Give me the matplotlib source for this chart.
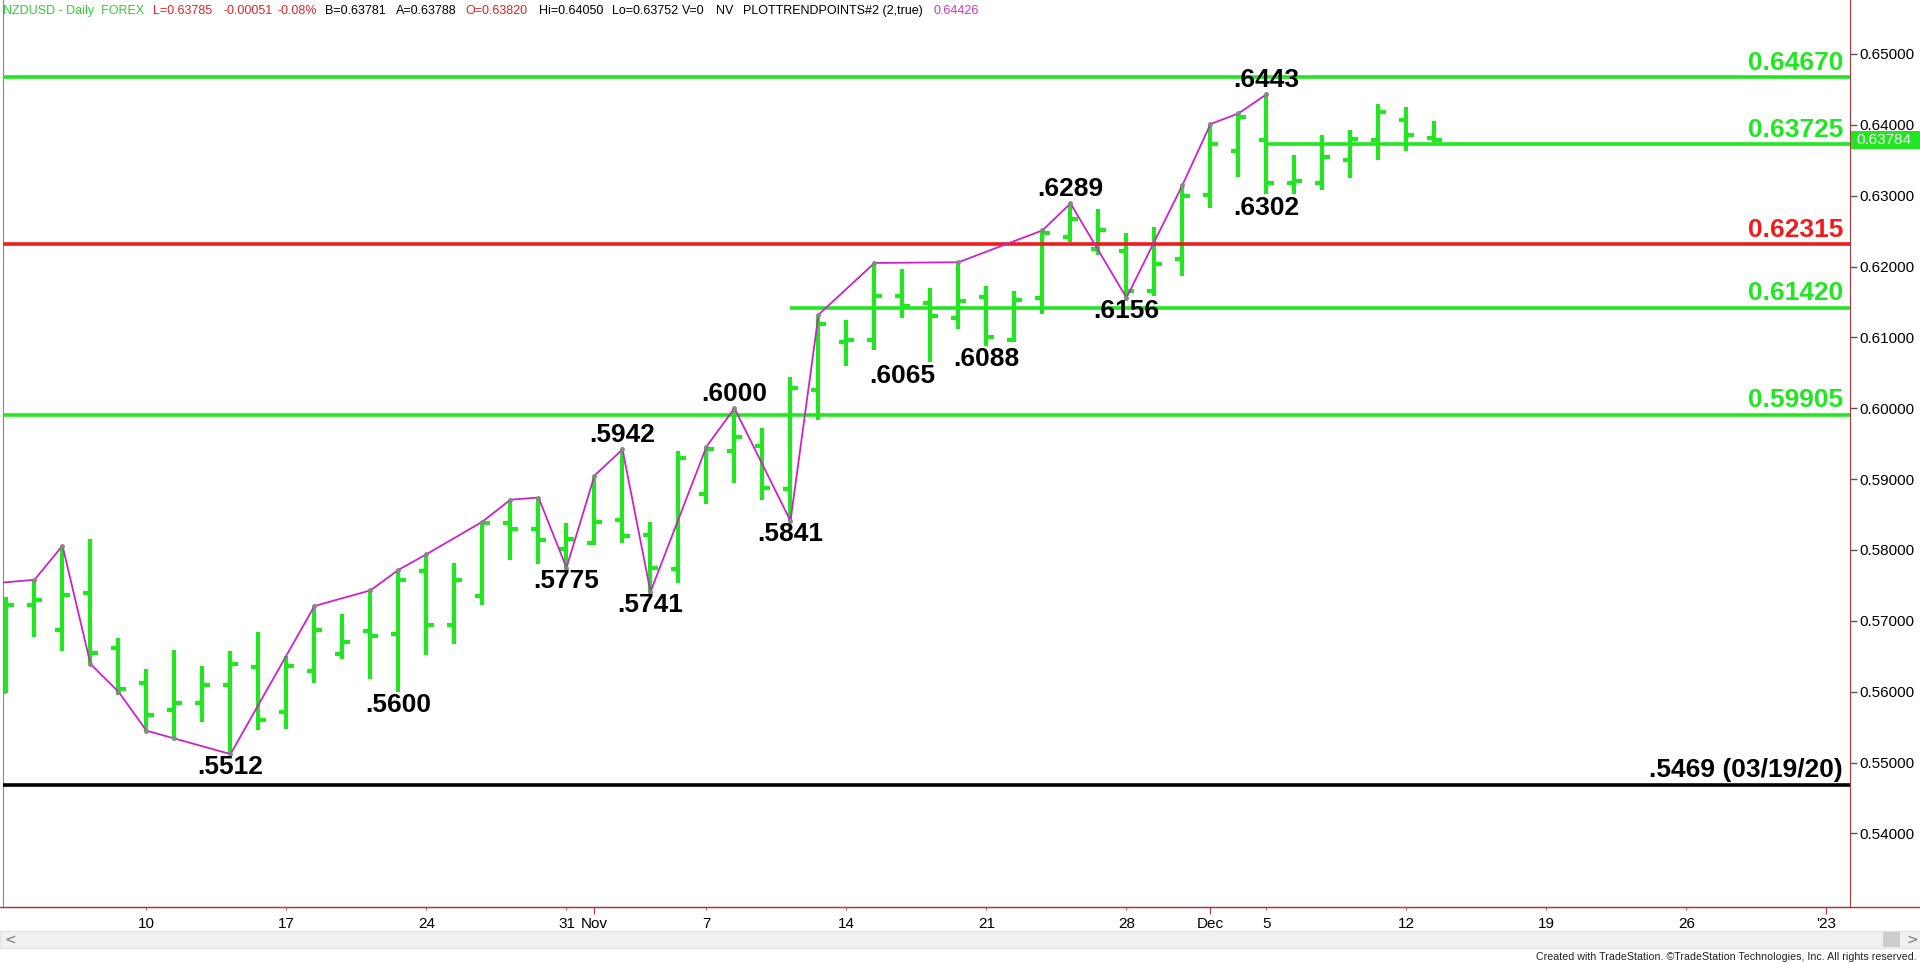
import numpy as np
import pandas as pd
import matplotlib
matplotlib.use("Agg")
import matplotlib.pyplot as plt
import matplotlib.transforms as mtransforms
from matplotlib.patches import Rectangle
from matplotlib.lines import Line2D

# NZD/USD daily bars, Oct 3 - Dec 13 2022
dates = pd.bdate_range("2022-10-03", "2022-12-13")
opens = [0.5600, 0.5723, 0.5687, 0.5740, 0.5662, 0.5613, 0.5574, 0.5584, 0.5609, 0.5635,
         0.5571, 0.5629, 0.5653, 0.5686, 0.5681, 0.5770, 0.5694, 0.5735, 0.5838, 0.5829,
         0.5801, 0.5810, 0.5843, 0.5821, 0.5773, 0.5879, 0.5940, 0.5947, 0.5886, 0.6026,
         0.6094, 0.6096, 0.6158, 0.6149, 0.6128, 0.6157, 0.6097, 0.6155, 0.6241, 0.6224,
         0.6222, 0.6165, 0.6210, 0.6301, 0.6363, 0.6379, 0.6318, 0.6318, 0.6350, 0.6379,
         0.6407, 0.6382]
highs = [0.5733, 0.5758, 0.5806, 0.5816, 0.5676, 0.5632, 0.5659, 0.5636, 0.5658, 0.5684,
         0.5650, 0.5721, 0.5710, 0.5743, 0.5772, 0.5794, 0.5782, 0.5840, 0.5871, 0.5874,
         0.5838, 0.5905, 0.5942, 0.5840, 0.5940, 0.5946, 0.6000, 0.5972, 0.6044, 0.6132,
         0.6124, 0.6205, 0.6196, 0.6170, 0.6206, 0.6172, 0.6165, 0.6251, 0.6289, 0.6281,
         0.6247, 0.6256, 0.6315, 0.6401, 0.6416, 0.6443, 0.6357, 0.6386, 0.6392, 0.6430,
         0.6425, 0.6405]
lows = [0.5598, 0.5677, 0.5657, 0.5639, 0.5596, 0.5545, 0.5534, 0.5557, 0.5512, 0.5546,
        0.5548, 0.5613, 0.5646, 0.5618, 0.5600, 0.5652, 0.5668, 0.5723, 0.5786, 0.5780,
        0.5775, 0.5807, 0.5810, 0.5741, 0.5753, 0.5865, 0.5895, 0.5871, 0.5841, 0.5983,
        0.6060, 0.6082, 0.6127, 0.6065, 0.6112, 0.6088, 0.6093, 0.6133, 0.6235, 0.6216,
        0.6156, 0.6158, 0.6187, 0.6282, 0.6326, 0.6302, 0.6303, 0.6308, 0.6325, 0.6350,
        0.6363, 0.6375]
closes = [0.5723, 0.5730, 0.5737, 0.5655, 0.5604, 0.5567, 0.5584, 0.5609, 0.5639, 0.5560,
          0.5636, 0.5687, 0.5670, 0.5679, 0.5758, 0.5694, 0.5757, 0.5838, 0.5829, 0.5814,
          0.5815, 0.5840, 0.5820, 0.5775, 0.5930, 0.5942, 0.5959, 0.5887, 0.6029, 0.6119,
          0.6097, 0.6159, 0.6144, 0.6130, 0.6151, 0.6100, 0.6153, 0.6247, 0.6267, 0.6252,
          0.6166, 0.6204, 0.6300, 0.6373, 0.6411, 0.6318, 0.6320, 0.6354, 0.6380, 0.6418,
          0.6385, 0.6378]

# trend points (bar number, price)
pivot_bars = [-1, 1, 2, 3, 4, 5, 6, 8, 11, 13, 14, 15, 17, 18, 19, 20, 21, 22, 23, 25,
              26, 28, 29, 31, 34, 37, 38, 40, 42, 43, 44, 45]
pivot_vals = [0.5751, 0.5758, 0.5806, 0.5639, 0.5600, 0.5545, 0.5534, 0.5512, 0.5721, 0.5743,
              0.5772, 0.5794, 0.5840, 0.5871, 0.5874, 0.5775, 0.5905, 0.5942, 0.5741, 0.5946,
              0.6000, 0.5841, 0.6132, 0.6205, 0.6206, 0.6251, 0.6289, 0.6156, 0.6315, 0.6401,
              0.6416, 0.6443]

# swing labels
high_label_bars = [22, 26, 38, 45]
low_label_bars = [8, 14, 20, 23, 28, 33, 35, 40, 45]

# horizontal levels
levels = [0.64670, 0.63725, 0.62315, 0.61420, 0.59905]
level_text = ["0.64670", "0.63725", "0.62315", "0.61420", "0.59905"]
level_colors = ["#22e622", "#22e622", "#ee1c1c", "#22e622", "#22e622"]
level_from = [None, 45, None, 28, None]
low_2020 = 0.5469
low_2020_text = ".5469 (03/19/20)"
last_price = 0.63784

GREEN = "#22e622"
AXRED = "#a83838"

W, H = 1920, 963
fig = plt.figure(figsize=(W / 100, H / 100), dpi=100)
fig.patch.set_facecolor("white")

ax = fig.add_axes([3 / W, 56 / H, 1847 / W, 907 / H])
ax.set_xlim(-0.125, 65.84)
ax.set_ylim(0.529624, 0.657605)

x = np.arange(len(dates))
tw = 0.27
ax.vlines(x, lows, highs, color=GREEN, lw=3, capstyle="butt", zorder=2)
ax.hlines(opens, x - tw, x, color=GREEN, lw=3, zorder=2)
ax.hlines(closes, x, x + tw, color=GREEN, lw=3, zorder=2)

xmin, xmax = ax.get_xlim()
for lv, txt, col, start in zip(levels, level_text, level_colors, level_from):
    x0 = xmin if start is None else start
    ax.hlines(lv, x0, xmax, color=col, lw=2.6, zorder=3)
    ax.annotate(txt, xy=(0.9962, lv), xycoords=("axes fraction", "data"),
                xytext=(0, 5.5), textcoords="offset points", ha="right", va="baseline",
                fontsize=19, fontweight="bold", color=col, family="Liberation Sans", zorder=5)
ax.hlines(low_2020, xmin, xmax, color="black", lw=2.6, zorder=3)
ax.annotate(low_2020_text, xy=(0.9962, low_2020), xycoords=("axes fraction", "data"),
            xytext=(0, 5.5), textcoords="offset points", ha="right", va="baseline",
            fontsize=19, fontweight="bold", color="black", family="Liberation Sans", zorder=5)

ax.plot(pivot_bars, pivot_vals, color="#cc22cc", lw=1.3, zorder=4,
        marker="o", markersize=2.5, markerfacecolor="#888888", markeredgecolor="#888888")

nudge = {33: -20}
for b in high_label_bars:
    ax.annotate("." + f"{highs[b]:.4f}"[2:], xy=(b, highs[b]), xytext=(nudge.get(b, 0), 5),
                textcoords="offset points", ha="center", va="baseline", fontsize=19,
                fontweight="bold", color="black", family="Liberation Sans", zorder=5)
for b in low_label_bars:
    ax.annotate("." + f"{lows[b]:.4f}"[2:], xy=(b, lows[b]), xytext=(nudge.get(b, 0), -1),
                textcoords="offset points", ha="center", va="top", fontsize=19,
                fontweight="bold", color="black", family="Liberation Sans", zorder=5)

# price axis
ax.yaxis.tick_right()
ax.set_yticks(np.arange(0.54, 0.6501, 0.01))
ax.yaxis.set_major_formatter(matplotlib.ticker.FormatStrFormatter("%.5f"))
ax.tick_params(axis="y", direction="out", length=5, width=1, color="#555555", pad=2,
               labelsize=11, labelcolor="black")
for t in ax.get_yticklabels():
    t.set_family("Liberation Sans")

# date axis
all_days = pd.bdate_range("2022-10-03", "2023-01-02")
maj_pos, maj_lab, min_pos, min_lab = [], [], [], []
for i, d in enumerate(all_days):
    first = i > 0 and all_days[i - 1].month != d.month
    if first:
        maj_pos.append(i)
        maj_lab.append("'" + d.strftime("%y") if d.month == 1 else d.strftime("%b"))
    elif d.weekday() == 0 and i > 0:
        min_pos.append(i)
        min_lab.append(str(d.day))
ax.set_xticks(maj_pos, maj_lab)
ax.set_xticks(min_pos, min_lab, minor=True)
ax.tick_params(axis="x", which="major", direction="out", length=5, color=AXRED, pad=2.5,
               labelsize=11)
ax.tick_params(axis="x", which="minor", direction="out", length=2, color=AXRED, pad=5.5,
               labelsize=11)
for t in ax.get_xticklabels(which="both"):
    t.set_family("Liberation Sans")

ax.spines["top"].set_visible(False)
ax.spines["left"].set_color("#888888")
ax.spines["right"].set_color(AXRED)
ax.spines["bottom"].set_color(AXRED)

# bottom line runs under price axis too
fig.add_artist(Line2D([0, 1], [56 / H, 56 / H], color=AXRED, lw=1, transform=fig.transFigure))

# last price box
bt = mtransforms.blended_transform_factory(fig.transFigure, ax.transData)
fig.add_artist(Rectangle((1851 / W, last_price - 0.00128), 69 / W, 0.00256, transform=bt,
                         facecolor="#22e622", edgecolor="none", clip_on=False))
fig.text(1856 / W, last_price, f"{last_price:.5f}", transform=bt, color="white", fontsize=11,
         va="center", ha="left", family="Liberation Sans")

# scroll bar
fig.add_artist(Rectangle((0, 15 / H), 1, 17 / H, transform=fig.transFigure,
                         facecolor="#f0f0f0", edgecolor="#dddddd", lw=0.6))
fig.add_artist(Rectangle((1883 / W, 16 / H), 17 / W, 15 / H, transform=fig.transFigure,
                         facecolor="#cdcdcd", edgecolor="none"))
fig.text(4 / W, 23.5 / H, "<", fontsize=10, color="#777777", va="center", ha="left")
fig.text(1907 / W, 23.5 / H, ">", fontsize=10, color="#777777", va="center", ha="left")
fig.text(1917 / W, 6 / H, "Created with TradeStation. \u00a9TradeStation Technologies, Inc. All rights reserved.",
         fontsize=7.7, ha="right", va="center", color="#222222", family="Liberation Sans")

# header line
header = [(3, "NZDUSD - Daily  FOREX", "#33cc33"), (153, "L=0.63785", "#dd2222"),
          (224, "-0.00051", "#dd2222"), (277, "-0.08%", "#dd2222"), (325, "B=0.63781", "black"),
          (396, "A=0.63788", "black"), (465, "O=0.63820", "#dd2222"), (539, "Hi=0.64050", "black"),
          (612, "Lo=0.63752", "black"), (682, "V=0", "black"), (716, "NV", "black"),
          (743, "PLOTTRENDPOINTS#2 (2,true)", "black"), (933, "0.64426", "#cc33cc")]
for px, txt, col in header:
    fig.text(px / W, (H - 11) / H, txt, fontsize=9, color=col, va="center", ha="left",
             family="Liberation Sans")

fig.savefig("out.png", dpi=100, facecolor="white")
